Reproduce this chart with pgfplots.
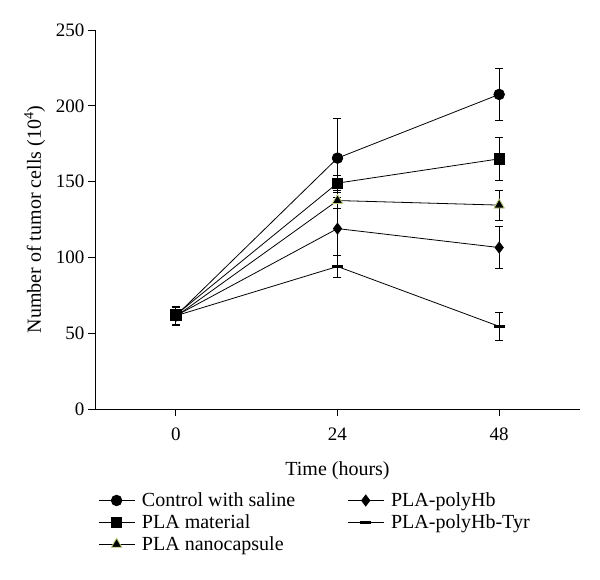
\documentclass[border=0pt]{standalone}
\usepackage{pgfplots}
\pgfplotsset{compat=1.18}
\usepackage{fontspec}
\setmainfont{Liberation Serif}
\definecolor{triolive}{RGB}{185,205,120}
\begin{document}
\begin{tikzpicture}
\begin{axis}[
    scale only axis,
    width=485pt, height=379pt,
    xmin=-12, xmax=60,
    ymin=0, ymax=250,
    xtick={0,24,48},
    ytick={0,50,...,250},
    axis x line*=bottom,
    axis y line*=left,
    axis line style={-, line width=0.8pt},
    tick align=outside,
    major tick length=7pt,
    tick style={line width=0.8pt, black},
    xlabel={Time (hours)},
    ylabel={Number of tumor cells (10\textsuperscript{4})},
    xlabel shift=14pt,
    ylabel shift=4pt,
    xticklabel style={yshift=-8pt},
    /pgf/number format/assume math mode=true,
    tick label style={font=\fontsize{19}{22}\selectfont},
    label style={font=\fontsize{20}{23}\selectfont},
    legend columns=2,
    legend cell align=left,
    legend style={at={(0,-0.21)}, anchor=north west, draw=none,
        font=\fontsize{20}{23}\selectfont,
        row sep=2.5pt,
        /tikz/every odd column/.append style={column sep=5pt},
        /tikz/every even column/.append style={column sep=50pt}},
    legend image code/.code={
        \draw[sharp plot] (0pt,0pt) -- (36pt,0pt);
        \draw[only marks] plot coordinates {(18pt,0pt)};
    },
    every axis plot/.append style={black, line width=0.8pt,
        error bars/y dir=both, error bars/y explicit,
        error bars/error bar style={line width=0.8pt},
        error bars/error mark options={rotate=90, mark size=4pt, line width=0.8pt}},
]
\addplot[forget plot, mark=*, mark size=5.3pt] coordinates {
    (0,61.5) +- (0,6.5)
    (24,165.5) +- (0,26)
    (48,207.5) +- (0,17)
};
\addplot[forget plot, mark=triangle*, mark size=6pt, mark options={fill=black, draw=triolive, line width=0.8pt}] coordinates {
    (0,61) +- (0,6)
    (24,137.5) +- (0,5.5)
    (48,134.5) +- (0,10)
};
\addplot[forget plot, mark=square*, mark size=5.2pt] coordinates {
    (0,62) +- (0,6)
    (24,149) +- (0,5)
    (48,165) +- (0,14)
};
\addplot[forget plot, mark=diamond*, mark size=5.5pt] coordinates {
    (0,61.5) +- (0,6)
    (24,119) +- (0,18)
    (48,106.5) +- (0,14)
};
\addplot[forget plot, mark=-, mark size=5.5pt, mark options={line width=3pt}] coordinates {
    (0,61.5) +- (0,6)
    (24,94) +- (0,7)
    (48,54.5) +- (0,9)
};
\addlegendimage{black, line width=0.8pt, mark=*, mark size=5.3pt}
\addlegendentry{Control with saline}
\addlegendimage{black, line width=0.8pt, mark=diamond*, mark size=5.5pt}
\addlegendentry{PLA-polyHb}
\addlegendimage{black, line width=0.8pt, mark=square*, mark size=5.2pt}
\addlegendentry{PLA material}
\addlegendimage{black, line width=0.8pt, mark=-, mark size=5.5pt, mark options={line width=3pt}}
\addlegendentry{PLA-polyHb-Tyr}
\addlegendimage{black, line width=0.8pt, mark=triangle*, mark size=6pt, mark options={fill=black, draw=triolive, line width=0.8pt}}
\addlegendentry{PLA nanocapsule}
\end{axis}
\path ([shift={(-95pt,409pt)}]current axis.south west) rectangle ([shift={(505pt,-171pt)}]current axis.south west);
\end{tikzpicture}
\end{document}
